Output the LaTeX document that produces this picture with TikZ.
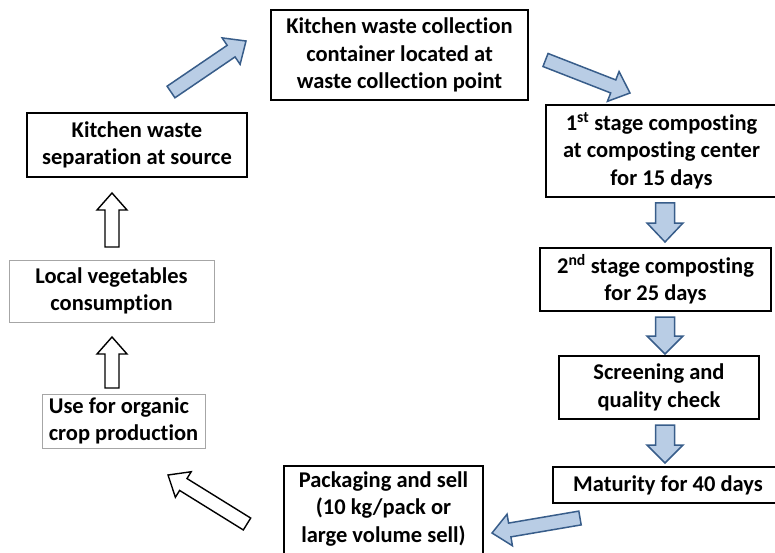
\documentclass[tikz,border=0pt]{standalone}
\usepackage{fontspec}
\setmainfont{Carlito}[Ligatures=NoCommon]
\usetikzlibrary{calc}
\definecolor{arrfill}{HTML}{B9CDE5}
\definecolor{arrline}{HTML}{385D8A}
\definecolor{thinbox}{HTML}{A6A6A6}
% block arrow: style, tail, tip, half shaft width, half head width, head length
\newcommand{\blkarr}[6]{%
  \coordinate (hb) at ($(#3)!#6!(#2)$);
  \draw[#1] ($(#2)!#4!90:(#3)$) -- ($(hb)!#4!-90:(#2)$) -- ($(hb)!#5!-90:(#2)$) -- (#3) -- ($(hb)!#5!90:(#2)$) -- ($(hb)!#4!90:(#2)$) -- ($(#2)!#4!-90:(#3)$) -- cycle;}
\begin{document}
\begin{tikzpicture}[x=1pt,y=-1pt,
  bx/.style={draw=black, line width=2.2pt, fill=white, inner sep=0pt, align=center,
    font=\fontsize{22.5}{27.5}\selectfont\bfseries},
  gbx/.style={draw=thinbox, line width=1pt, fill=white, inner sep=0pt, align=center,
    font=\fontsize{22.5}{27.5}\selectfont\bfseries},
  blu/.style={fill=arrfill, draw=arrline, line width=1.5pt, line join=miter},
  wht/.style={fill=white, draw=black, line width=1.4pt, line join=miter}]
\useasboundingbox (0,0) rectangle (775,553);
\clip (0,0) rectangle (775,553);
% boxes
\node[bx, minimum width=257pt, minimum height=90pt] (collect) at (399.5,55)
  {Kitchen waste collection\\container located at\\waste collection point};
\node[bx, minimum width=220pt, minimum height=64pt] (separ) at (137,145)
  {Kitchen waste\\separation at source};
\node[gbx, minimum width=205pt, minimum height=62pt] (local) at (111.5,291)
  {Local vegetables\\consumption};
\node[gbx, minimum width=163pt, minimum height=54pt, align=left] (organic) at (123.5,421)
  {Use for organic\\crop production};
\node[bx, minimum width=231pt, minimum height=92pt] (stage1) at (661.5,151)
  {1\textsuperscript{st} stage composting\\at composting center\\for 15 days};
\node[bx, minimum width=231pt, minimum height=63pt] (stage2) at (655.5,279.5)
  {2\textsuperscript{nd} stage composting\\for 25 days};
\node[bx, minimum width=200pt, minimum height=63pt] (screen) at (659,387.5)
  {Screening and\\quality check};
\node[bx, minimum width=230pt, minimum height=36pt] (mature) at (668,485)
  {Maturity for 40 days};
\node[bx, minimum width=199pt, minimum height=100pt, anchor=north] (pack) at (383.5,465)
  {\rule{0pt}{0pt}\\[-26pt]Packaging and sell\\(10 kg/pack or\\large volume sell)};
% arrow end points
\coordinate (a1t) at (171,92);   \coordinate (a1h) at (246,41);
\coordinate (a2t) at (545.5,60); \coordinate (a2h) at (630,93);
\coordinate (a3t) at (665,203);  \coordinate (a3h) at (665,242);
\coordinate (a4t) at (665,317);  \coordinate (a4h) at (665,354);
\coordinate (a5t) at (665,425);  \coordinate (a5h) at (665,463);
\coordinate (a6t) at (580,518);  \coordinate (a6h) at (492,533);
\coordinate (a7t) at (247,524);  \coordinate (a7h) at (168,475);
\coordinate (a8t) at (112,388);  \coordinate (a8h) at (112,337);
\coordinate (a9t) at (112,247);  \coordinate (a9h) at (112,193);
% arrows
\blkarr{blu}{a1t}{a1h}{7pt}{16pt}{18pt}
\blkarr{blu}{a2t}{a2h}{7pt}{16pt}{18pt}
\blkarr{blu}{a3t}{a3h}{9.5pt}{18pt}{19pt}
\blkarr{blu}{a4t}{a4h}{9.5pt}{18pt}{18pt}
\blkarr{blu}{a5t}{a5h}{9.5pt}{18pt}{18pt}
\blkarr{blu}{a6t}{a6h}{7pt}{16pt}{18pt}
\blkarr{wht}{a7t}{a7h}{7pt}{15pt}{18pt}
\blkarr{wht}{a8t}{a8h}{7pt}{15pt}{17pt}
\blkarr{wht}{a9t}{a9h}{7pt}{15pt}{17pt}
\end{tikzpicture}
\end{document}
